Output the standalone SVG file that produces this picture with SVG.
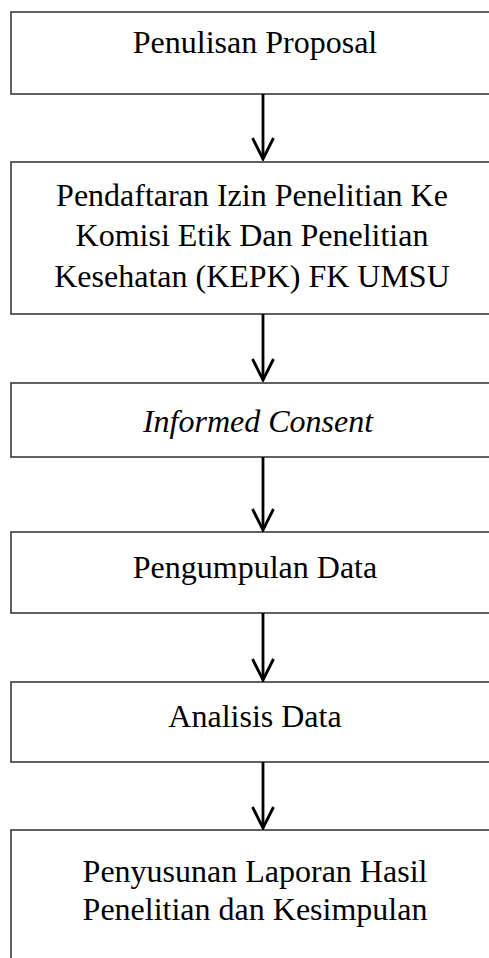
<svg xmlns="http://www.w3.org/2000/svg" width="489" height="958" viewBox="0 0 489 958">
<style>
.box{fill:#fff;stroke:#3a3a3a;stroke-width:1.6}
.t{font-family:"Liberation Serif","Times New Roman",serif;font-size:32px;fill:#000;text-anchor:middle}
.i{font-style:italic}
.c{stroke:#000;stroke-width:2.8;fill:none}
</style>
<defs>
<marker id="ah" viewBox="0 0 24 24" markerWidth="24" markerHeight="24" refX="22" refY="12" orient="auto" markerUnits="userSpaceOnUse">
<path d="M1,1.5 L22,12 L1,22.5" fill="none" stroke="#000" stroke-width="2.8"/>
</marker>
</defs>
<rect width="489" height="958" fill="#fff"/>
<g id="n1"><rect class="box" x="11" y="12" width="490" height="82"/><text class="t" x="255" y="53">Penulisan Proposal</text></g>
<g id="n2"><rect class="box" x="11" y="162" width="490" height="152"/><text class="t" x="252" y="206">Pendaftaran Izin Penelitian Ke</text><text class="t" x="252" y="246">Komisi Etik Dan Penelitian</text><text class="t" x="252" y="287">Kesehatan (KEPK) FK UMSU</text></g>
<g id="n3"><rect class="box" x="11" y="383" width="490" height="74"/><text class="t i" x="258" y="432">Informed Consent</text></g>
<g id="n4"><rect class="box" x="11" y="532" width="490" height="81"/><text class="t" x="255" y="578">Pengumpulan Data</text></g>
<g id="n5"><rect class="box" x="11" y="682" width="490" height="80"/><text class="t" x="255" y="727">Analisis Data</text></g>
<g id="n6"><rect class="box" x="11" y="830" width="490" height="140"/><text class="t" x="255" y="882">Penyusunan Laporan Hasil</text><text class="t" x="255" y="920">Penelitian dan Kesimpulan</text></g>
<g id="connectors">
<line class="c" x1="263" y1="94" x2="263" y2="159" marker-end="url(#ah)"/>
<line class="c" x1="263" y1="314" x2="263" y2="380" marker-end="url(#ah)"/>
<line class="c" x1="263" y1="457" x2="263" y2="530" marker-end="url(#ah)"/>
<line class="c" x1="263" y1="613" x2="263" y2="680" marker-end="url(#ah)"/>
<line class="c" x1="263" y1="762" x2="263" y2="828" marker-end="url(#ah)"/>
</g>
</svg>
